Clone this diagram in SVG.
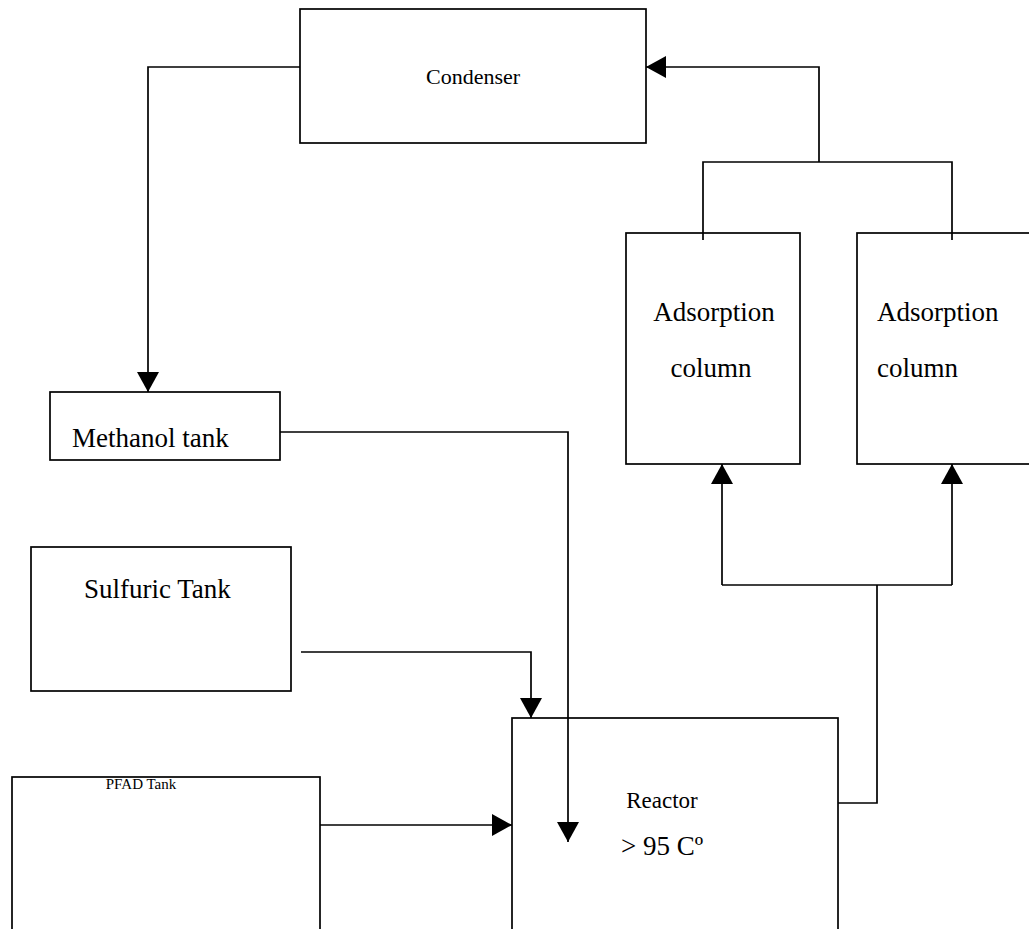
<svg xmlns="http://www.w3.org/2000/svg" width="1029" height="929" viewBox="0 0 1029 929">
<style>
.box{fill:#fff;stroke:#000;stroke-width:1.7}
.ln{fill:none;stroke:#000;stroke-width:1.7}
text{font-family:"Liberation Serif","Times New Roman",serif;fill:#000}
</style>
<defs>
<marker id="ah" viewBox="0 0 20 22" refX="20" refY="11" markerWidth="20" markerHeight="22" markerUnits="userSpaceOnUse" orient="auto">
<path d="M0,0 L20,11 L0,22 Z" fill="#000"/>
</marker>
</defs>
<rect width="1029" height="929" fill="#fff"/>
<g id="condenser"><rect class="box" x="300" y="9" width="346" height="134"/><text x="473" y="84" font-size="22" text-anchor="middle">Condenser</text></g>
<g id="methanol-tank"><rect class="box" x="50" y="392" width="230" height="68"/><text x="72" y="447" font-size="27">Methanol tank</text></g>
<g id="sulfuric-tank"><rect class="box" x="31" y="547" width="260" height="144"/><text x="84" y="598" font-size="27">Sulfuric Tank</text></g>
<g id="pfad-tank"><rect class="box" x="12" y="777" width="308" height="160"/><text x="141" y="789" font-size="15" text-anchor="middle">PFAD Tank</text></g>
<g id="reactor"><rect class="box" x="512" y="718" width="326" height="220"/><text x="662" y="808" font-size="23" text-anchor="middle">Reactor</text><text x="662" y="855" font-size="27" text-anchor="middle">&gt; 95 Cº</text></g>
<g id="adsorption-1"><rect class="box" x="626" y="233" width="174" height="231"/><text x="714" y="321" font-size="27" text-anchor="middle">Adsorption</text><text x="711" y="377" font-size="27" text-anchor="middle">column</text></g>
<g id="adsorption-2"><rect class="box" x="857" y="233" width="180" height="231"/><text x="877" y="321" font-size="27">Adsorption</text><text x="877" y="377" font-size="27">column</text></g>
<g id="connectors">
<path class="ln" d="M300,67 H148 V392" marker-end="url(#ah)"/>
<path class="ln" d="M280,432 H568 V842" marker-end="url(#ah)"/>
<path class="ln" d="M301,652 H531 V718" marker-end="url(#ah)"/>
<path class="ln" d="M320,825 H512" marker-end="url(#ah)"/>
<path class="ln" d="M838,803 H877 V585"/>
<path class="ln" d="M722,585 H952"/>
<path class="ln" d="M722,585 V464" marker-end="url(#ah)"/>
<path class="ln" d="M952,585 V464" marker-end="url(#ah)"/>
<path class="ln" d="M703,240 V162 H952 V240"/>
<path class="ln" d="M819,162 V67 H646" marker-end="url(#ah)"/>
</g>
</svg>
